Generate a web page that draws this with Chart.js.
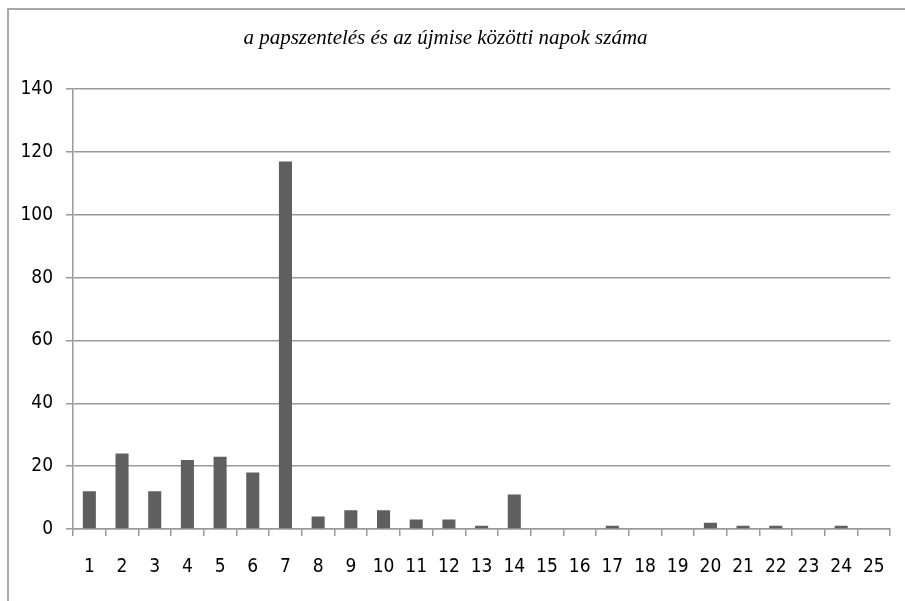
<!DOCTYPE html>
<html>
<head>
<meta charset="utf-8">
<script src="https://cdn.jsdelivr.net/npm/chart.js@4/dist/chart.umd.min.js"></script>
<style>
  html, body { margin: 0; padding: 0; background: #fff; }
  #wrap { position: relative; width: 905px; height: 601px; }
</style>
</head>
<body>
<div id="wrap"><canvas id="c" width="905" height="601"></canvas></div>
<script>
const categories = ['1','2','3','4','5','6','7','8','9','10','11','12','13','14','15','16','17','18','19','20','21','22','23','24','25'];
const napokSzama = [12, 24, 12, 22, 23, 18, 117, 4, 6, 6, 3, 3, 1, 11, 0, 0, 1, 0, 0, 2, 1, 1, 0, 1, 0];
const chartTitle = 'a papszentelés és az újmise közötti napok száma';
const yMax = 140;
const yStep = 20;

const tickFont = { family: '"Liberation Sans Narrow", "DejaVu Sans Condensed", sans-serif', size: 19 };

const frame = {
  id: 'frame',
  beforeDraw(chart) {
    const ctx = chart.ctx;
    ctx.save();
    ctx.fillStyle = '#fff';
    ctx.fillRect(0, 0, chart.width, chart.height);
    ctx.strokeStyle = '#a8a8a8';
    ctx.lineWidth = 2;
    ctx.beginPath();
    ctx.moveTo(8, chart.height);
    ctx.lineTo(8, 9);
    ctx.lineTo(chart.width, 9);
    ctx.stroke();
    ctx.restore();
  }
};

new Chart(document.getElementById('c'), {
  type: 'bar',
  data: {
    labels: categories,
    datasets: [{
      data: napokSzama,
      backgroundColor: '#5f5f5f',
      borderWidth: 0,
      barPercentage: 0.4,
      categoryPercentage: 1.0
    }]
  },
  options: {
    responsive: false,
    animation: false,
    layout: { padding: { left: 0, right: 14, top: 0, bottom: 0 } },
    plugins: {
      legend: { display: false },
      tooltip: { enabled: false },
      title: {
        display: true,
        text: chartTitle,
        color: '#000',
        font: { family: 'Liberation Serif', size: 21, style: 'italic', weight: 'normal', lineHeight: 1.2 },
        padding: { top: 26, bottom: 38 }
      }
    },
    scales: {
      x: {
        afterFit(scale) { scale.height = 72; },
        grid: {
          offset: true,
          drawOnChartArea: false,
          drawTicks: true,
          tickLength: 7,
          color: '#999',
          lineWidth: 1.5
        },
        border: { display: true, color: '#999', width: 1.5 },
        ticks: {
          color: '#000',
          padding: 20,
          maxRotation: 0,
          autoSkip: false,
          font: tickFont
        }
      },
      y: {
        min: 0,
        max: yMax,
        afterFit(scale) { scale.width = 73; },
        grid: {
          color: '#999',
          lineWidth: 1.5,
          drawTicks: true,
          tickLength: 7
        },
        border: { display: true, color: '#999', width: 1.5 },
        ticks: {
          stepSize: yStep,
          color: '#000',
          padding: 13,
          font: tickFont
        }
      }
    }
  },
  plugins: [frame]
});
</script>
</body>
</html>
